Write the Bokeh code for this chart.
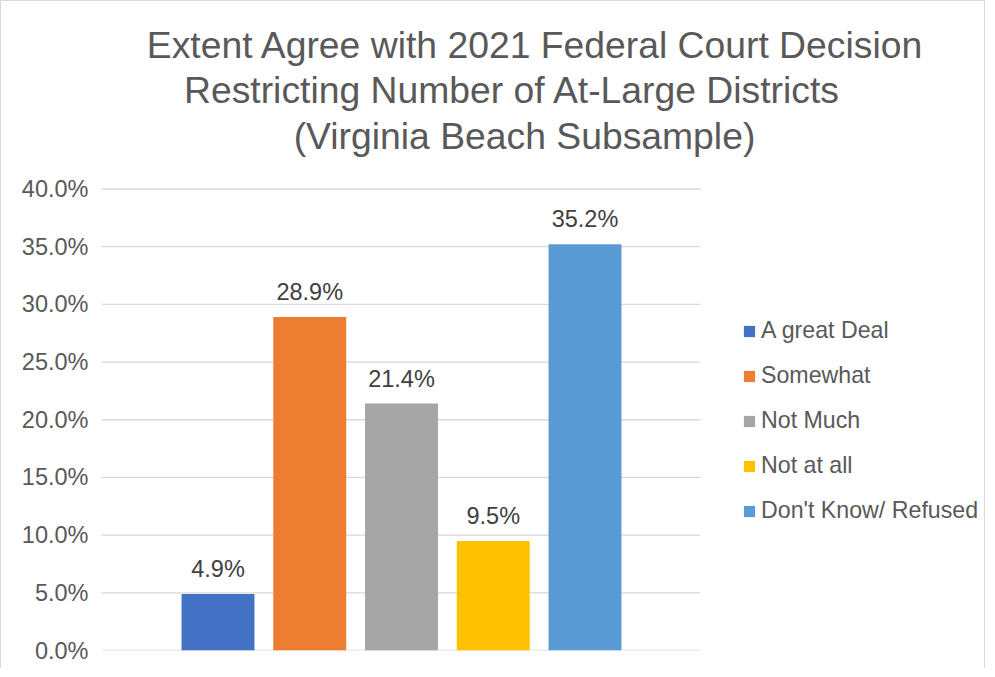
from bokeh.plotting import figure
from bokeh.models import (ColumnDataSource, Range1d, FixedTicker, NumeralTickFormatter,
                          LabelSet, Label, Legend, LegendItem)
from bokeh.core.properties import value
from bokeh.embed import file_html
from bokeh.resources import INLINE

# ---- data ----
series = ["A great Deal", "Somewhat", "Not Much", "Not at all", "Don't Know/ Refused"]
values = [0.049, 0.289, 0.214, 0.095, 0.352]
value_labels = ["4.9%", "28.9%", "21.4%", "9.5%", "35.2%"]
colors = ["#4472C4", "#ED7D31", "#A5A5A5", "#FFC000", "#5B9BD5"]
y_ticks = [0.0, 0.05, 0.10, 0.15, 0.20, 0.25, 0.30, 0.35, 0.40]
title_lines = ["Extent Agree with 2021 Federal Court Decision",
               "Restricting Number of At-Large Districts",
               "(Virginia Beach Subsample)"]

FONT = "Liberation Sans"
TXT = "#595959"

# geometry: one bar slot = 91.75 px, 0.40 = 461.5 px
X0, X1 = -1.2698, 8.376      # frame extends over the legend / title area
GRID_END = 5.259             # plot-area right edge (data units)
Y1 = 0.5625                  # frame extends up over the title area

p = figure(width=985, height=668, output_backend="svg", toolbar_location=None,
           x_axis_location=None, title=None,
           x_range=Range1d(X0, X1), y_range=Range1d(0, Y1),
           min_border_left=100, min_border_right=0, min_border_top=0,
           min_border_bottom=19)
p.outline_line_color = None
p.background_fill_color = "white"
p.border_fill_color = "white"
p.styles = {"border-top": "1px solid #D9D9D9", "border-left": "1px solid #D9D9D9",
            "border-right": "1px solid #D9D9D9"}

p.xgrid.grid_line_color = None
p.ygrid.grid_line_color = None

# gridlines only across the plot area
p.segment(x0=[X0] * len(y_ticks), x1=[GRID_END] * len(y_ticks), y0=y_ticks, y1=y_ticks,
          line_color="#D9D9D9", line_width=1.3)

ax = p.yaxis[0]
ax.ticker = FixedTicker(ticks=y_ticks)
ax.formatter = NumeralTickFormatter(format="0.0%")
ax.axis_line_color = None
ax.major_tick_line_color = None
ax.minor_tick_line_color = None
ax.major_tick_out = 0
ax.major_tick_in = 0
ax.major_label_standoff = 13
ax.major_label_text_font = FONT
ax.major_label_text_font_size = "23.5px"
ax.major_label_text_color = TXT

src = ColumnDataSource(dict(x=list(range(len(series))), top=values, color=colors,
                            name=series, lab=value_labels))
items = []
for i, s in enumerate(series):
    r = p.vbar(x=[i], top=[values[i]], width=0.795, bottom=0, fill_color=colors[i],
               line_color=None)
    items.append(LegendItem(label=s, renderers=[r]))

labels = LabelSet(x="x", y="top", text="lab", source=src, y_offset=17,
                  text_align="center", text_baseline="alphabetic",
                  text_font=value(FONT), text_font_size=value("23.5px"),
                  text_color=value("#404040"))
p.add_layout(labels)

legend = Legend(items=items, location=(641, 126), orientation="vertical",
                glyph_width=14, glyph_height=14, label_standoff=5,
                label_height=24, spacing=18, padding=0, margin=0,
                border_line_color=None, background_fill_alpha=0,
                label_text_font=FONT, label_text_font_size="23.2px",
                label_text_color=TXT, label_text_baseline="middle")
p.add_layout(legend)

# title lines (screen units relative to frame: x from frame left, y up from frame bottom)
title_cx = [535, 512, 524]
title_base = [44, 89, 135]
for t, cx, by in zip(title_lines, title_cx, title_base):
    p.add_layout(Label(x=cx - 101, y=650 - by, x_units="screen", y_units="screen",
                       text=t, text_align="center", text_baseline="alphabetic",
                       text_font=FONT, text_font_size="37.3px", text_color=TXT))

open("out.html", "w").write(file_html(p, INLINE))
